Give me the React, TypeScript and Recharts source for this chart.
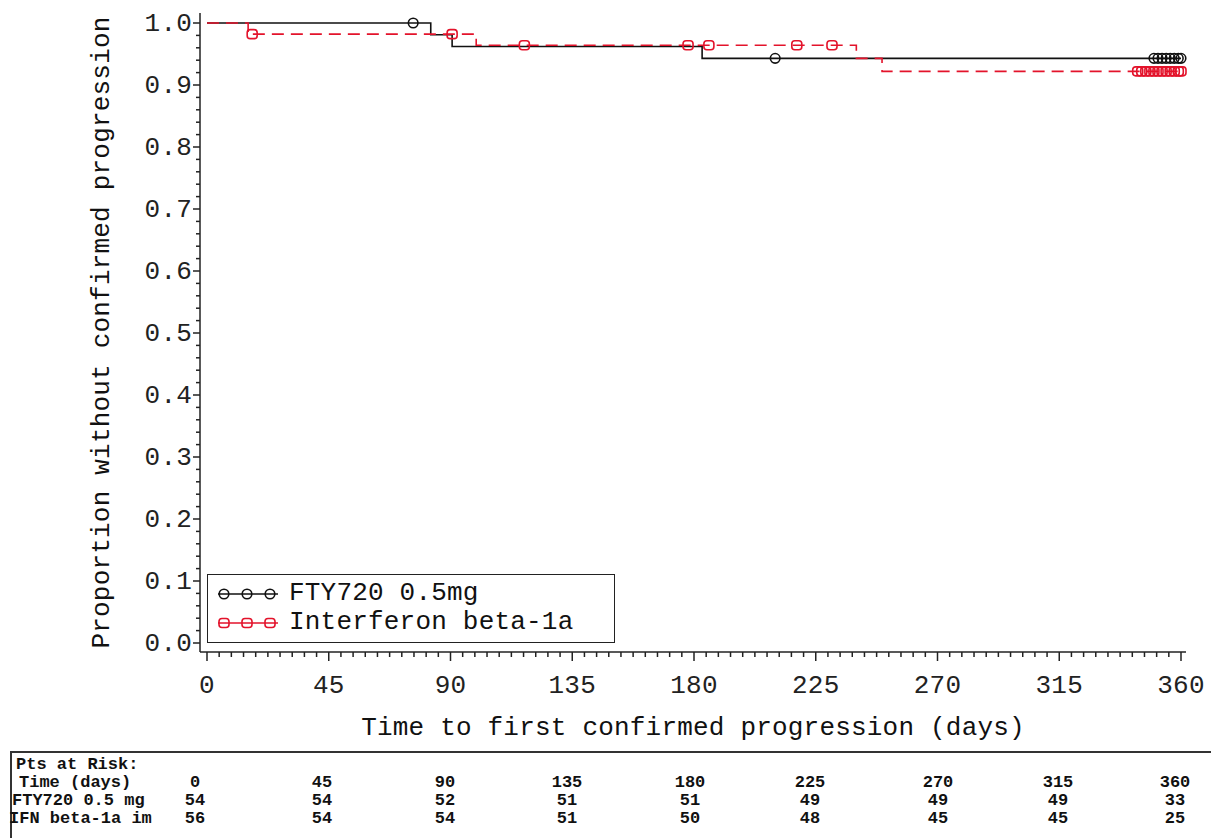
import React from "react";
import { LineChart, Line, XAxis, YAxis, Legend } from "recharts";

// axis ticks
const xMajorTicks = [0, 45, 90, 135, 180, 225, 270, 315, 360];
const yMajorTicks = [0, 0.1, 0.2, 0.3, 0.4, 0.5, 0.6, 0.7, 0.8, 0.9, 1.0];

// Kaplan-Meier curves: [day, survival after event]
const ftyEvents: [number, number][] = [
  [0, 1],
  [82.7, 0.981],
  [90.6, 0.962],
  [183, 0.943],
];
const ftyCensored = [76.2, 210, 350, 351.5, 353, 354.5, 356, 357.5, 359, 360];

const ifnEvents: [number, number][] = [
  [0, 1],
  [15.2, 0.982],
  [99.5, 0.964],
  [240, 0.943],
  [249.5, 0.922],
];
const ifnCensored = [
  16.7, 90.6, 117.3, 177.8, 185.5, 218, 231, 344, 345.5, 347, 348.5, 350,
  351.5, 353, 354.5, 356, 357.5, 359, 360,
];

const seriesNames = ["FTY720 0.5mg", "Interferon beta-1a"];
const seriesColors = ["#111111", "#e3132b"];

// patients at risk table
const riskTitle = "Pts at Risk:";
const riskTimeLabel = "Time (days)";
const riskRowLabels = ["FTY720 0.5 mg", "IFN beta-1a im"];
const riskTimes = ["0", "45", "90", "135", "180", "225", "270", "315", "360"];
const riskFty = [54, 54, 52, 51, 51, 49, 49, 49, 33];
const riskIfn = [56, 54, 54, 51, 50, 48, 45, 45, 25];

const FONT = "'Liberation Mono', 'Courier New', monospace";

type Row = { t: number; s: number; c: boolean };

const buildCurve = (events: [number, number][], censored: number[]): Row[] => {
  const rows: Row[] = events.map(([t, s]) => ({ t, s, c: false }));
  censored.forEach((t) => {
    let s = 1;
    events.forEach(([et, es]) => {
      if (et <= t) s = es;
    });
    rows.push({ t, s, c: true });
  });
  return rows.sort((a, b) => a.t - b.t || (a.c ? 1 : -1));
};

const ftyData = buildCurve(ftyEvents, ftyCensored);
const ifnData = buildCurve(ifnEvents, ifnCensored);

// minor ticks: 10 per major x interval, 5 per major y interval
const xAllTicks: number[] = [];
for (let i = 0; i < xMajorTicks.length - 1; i++) {
  const step = (xMajorTicks[i + 1] - xMajorTicks[i]) / 10;
  for (let k = 0; k < 10; k++) xAllTicks.push(xMajorTicks[i] + k * step);
}
xAllTicks.push(xMajorTicks[xMajorTicks.length - 1]);

const yAllTicks: number[] = [];
for (let i = 0; i < yMajorTicks.length - 1; i++) {
  for (let k = 0; k < 5; k++) yAllTicks.push(Math.round((yMajorTicks[i] + k * 0.02) * 1000) / 1000);
}
yAllTicks.push(1);

const isMajorX = (v: number) => xMajorTicks.some((m) => Math.abs(m - v) < 1e-6);
const isMajorY = (v: number) => yMajorTicks.some((m) => Math.abs(m - v) < 1e-6);

const XTick = ({ x, y, payload }: any) => {
  const major = isMajorX(payload.value);
  return (
    <g>
      <line x1={x} y1={y} x2={x} y2={y + (major ? 9 : 5)} stroke="#222" strokeWidth={1.5} />
      {major && (
        <text x={x} y={y + 41} textAnchor="middle" fill="#222" fontFamily={FONT} fontSize={26} style={{ letterSpacing: 0.2 }}>
          {payload.value}
        </text>
      )}
    </g>
  );
};

const YTick = ({ x, y, payload }: any) => {
  const major = isMajorY(payload.value);
  return (
    <g>
      <line x1={x - (major ? 7 : 4)} y1={y} x2={x} y2={y} stroke="#222" strokeWidth={1.5} />
      {major && (
        <text x={x - 8} y={y + 8} textAnchor="end" fill="#222" fontFamily={FONT} fontSize={26} style={{ letterSpacing: 0.2 }}>
          {Number(payload.value).toFixed(1)}
        </text>
      )}
    </g>
  );
};

const Marker = ({ cx, cy, color, square }: { cx: number; cy: number; color: string; square: boolean }) =>
  square ? (
    <rect x={cx - 5} y={cy - 4.5} width={10} height={9} rx={3} fill="none" stroke={color} strokeWidth={1.6} />
  ) : (
    <circle cx={cx} cy={cy} r={4.8} fill="none" stroke={color} strokeWidth={1.6} />
  );

const censorDot = (color: string, square: boolean) => (p: any) => {
  if (!p.payload || !p.payload.c) return <g key={`d-${p.index}`} />;
  return (
    <g key={`d-${p.index}`}>
      <Marker cx={p.cx} cy={p.cy} color={color} square={square} />
    </g>
  );
};

const renderLegend = () => (
  <div
    style={{
      boxSizing: "border-box",
      width: 408,
      height: 69,
      border: "1.5px solid #222",
      background: "#fff",
      paddingTop: 4,
      paddingLeft: 10,
    }}
  >
    {seriesNames.map((name, i) => (
      <div key={name} style={{ display: "flex", alignItems: "center", height: 29 }}>
        <svg width={62} height={20} style={{ marginRight: 9 }}>
          <line x1={0} y1={10} x2={60} y2={10} stroke={seriesColors[i]} strokeWidth={1.5} />
          {[6, 29, 52].map((cx) => (
            <Marker key={cx} cx={cx} cy={10} color={seriesColors[i]} square={i === 1} />
          ))}
        </svg>
        <span style={{ fontFamily: FONT, fontSize: 26, letterSpacing: 0.2, color: "#111", lineHeight: "29px" }}>
          {name}
        </span>
      </div>
    ))}
  </div>
);

const riskCols = [195, 322, 445, 567, 690, 810, 938, 1058, 1175];
const riskRowsY = [765, 783, 801, 819];

const tableText: React.CSSProperties = {
  position: "absolute",
  fontFamily: FONT,
  fontWeight: 700,
  fontSize: 17,
  lineHeight: "18px",
  color: "#111",
  whiteSpace: "pre",
};

export default function App() {
  return (
    <div style={{ position: "absolute", left: 0, top: 0, width: 1211, height: 838, background: "#fff", overflow: "hidden" }}>
      <LineChart width={1211} height={745} margin={{ top: 13, right: 25, left: 90, bottom: 5 }}>
        <XAxis
          dataKey="t"
          type="number"
          domain={[0, 360]}
          ticks={xAllTicks}
          interval={0}
          tickSize={0}
          tickMargin={0}
          tickLine={false}
          tick={<XTick />}
          height={88}
          padding={{ left: 7, right: 5 }}
          axisLine={{ stroke: "#222", strokeWidth: 1.5 }}
          label={{
            value: "Time to first confirmed progression (days)",
            position: "insideBottom",
            offset: 5,
            style: { fontFamily: FONT, fontSize: 26, letterSpacing: 0.2, fill: "#111" },
          }}
        />
        <XAxis
          xAxisId="top"
          orientation="top"
          type="number"
          domain={[0, 360]}
          height={0}
          tick={false}
          tickLine={false}
          axisLine={{ stroke: "#222", strokeWidth: 1.5 }}
        />
        <YAxis
          type="number"
          domain={[0, 1]}
          ticks={yAllTicks}
          interval={0}
          tickSize={0}
          tickMargin={0}
          tickLine={false}
          tick={<YTick />}
          width={110}
          padding={{ top: 10, bottom: 9 }}
          axisLine={{ stroke: "#222", strokeWidth: 1.5 }}
          label={{
            value: "Proportion without confirmed progression",
            angle: -90,
            position: "insideLeft",
            offset: 10,
            style: { textAnchor: "middle", fontFamily: FONT, fontSize: 26, letterSpacing: 0.2, fill: "#111" },
          }}
        />
        <YAxis
          yAxisId="right"
          orientation="right"
          type="number"
          domain={[0, 1]}
          width={0}
          tick={false}
          tickLine={false}
          axisLine={{ stroke: "#222", strokeWidth: 1.5 }}
        />
        <Legend
          layout="vertical"
          align="center"
          verticalAlign="middle"
          content={renderLegend}
          wrapperStyle={{ left: 207, top: 574, width: 408, height: 69 }}
        />
        <Line
          data={ftyData}
          dataKey="s"
          name={seriesNames[0]}
          type="stepAfter"
          stroke={seriesColors[0]}
          strokeWidth={1.6}
          dot={censorDot(seriesColors[0], false)}
          activeDot={false}
          isAnimationActive={false}
        />
        <Line
          data={ifnData}
          dataKey="s"
          name={seriesNames[1]}
          type="stepAfter"
          stroke={seriesColors[1]}
          strokeWidth={1.6}
          strokeDasharray="12 7"
          dot={censorDot(seriesColors[1], true)}
          activeDot={false}
          isAnimationActive={false}
        />
      </LineChart>

      <div
        style={{
          position: "absolute",
          left: 10,
          top: 751,
          right: 0,
          bottom: 0,
          borderTop: "2px solid #333",
          borderLeft: "2px solid #333",
        }}
      />
      <span style={{ ...tableText, left: 16, top: riskRowsY[0] - 9 }}>{riskTitle}</span>
      <span style={{ ...tableText, left: 19, top: riskRowsY[1] - 9 }}>{riskTimeLabel}</span>
      <span style={{ ...tableText, left: 12, top: riskRowsY[2] - 9 }}>{riskRowLabels[0]}</span>
      <span style={{ ...tableText, left: 9, top: riskRowsY[3] - 9 }}>{riskRowLabels[1]}</span>
      {riskTimes.map((t, i) => (
        <React.Fragment key={t}>
          {[t, riskFty[i], riskIfn[i]].map((v, r) => (
            <span
              key={r}
              style={{
                ...tableText,
                left: riskCols[i] - 30,
                width: 60,
                textAlign: "center",
                top: riskRowsY[r + 1] - 9,
              }}
            >
              {v}
            </span>
          ))}
        </React.Fragment>
      ))}
    </div>
  );
}
